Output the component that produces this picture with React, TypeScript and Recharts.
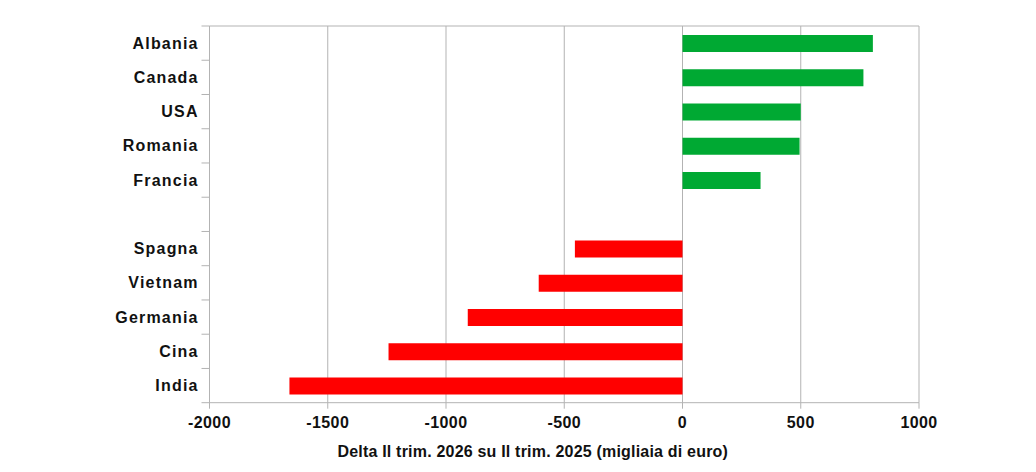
import { BarChart, Bar, XAxis, YAxis, CartesianGrid, Cell, Label } from "recharts";

const countries = [
  "Albania",
  "Canada",
  "USA",
  "Romania",
  "Francia",
  "",
  "Spagna",
  "Vietnam",
  "Germania",
  "Cina",
  "India",
];
const deltas = [805, 765, 500, 495, 330, null, -455, -608, -908, -1243, -1662];
const xTicks = [-2000, -1500, -1000, -500, 0, 500, 1000];

const data = countries.map((name, i) => ({ name, delta: deltas[i] }));

const GRID = "#b3b3b3";
const TEXT = "#111";
const FONT = "'Liberation Sans', Arial, sans-serif";

function CountryTick(props: any) {
  const { x, y, payload, index } = props;
  const half = payload?.offset ?? 17;
  // tick marks sit between categories, not at their centres
  return (
    <g>
      <line x1={x + 4} x2={x + 12} y1={y - half} y2={y - half} stroke={GRID} />
      {index === countries.length - 1 && (
        <line x1={x + 4} x2={x + 12} y1={y + half} y2={y + half} stroke={GRID} />
      )}
      {payload.value && (
        <text
          x={x + 1.2}
          y={y}
          dy="0.35em"
          textAnchor="end"
          fill={TEXT}
          fontSize={16}
          fontWeight="bold"
          fontFamily={FONT}
          letterSpacing={1.2}
        >
          {payload.value}
        </text>
      )}
    </g>
  );
}

export default function App() {
  return (
    <div style={{ position: "absolute", left: 0, top: 0, background: "#fff" }}>
      <BarChart
        width={1036}
        height={472}
        data={data}
        layout="vertical"
        barSize={17}
        margin={{ top: 26, right: 117, left: 9.5, bottom: 0 }}
      >
        {/* only the top frame line runs horizontally */}
        <CartesianGrid
          stroke={GRID}
          horizontalCoordinatesGenerator={({ offset }: any) => [offset.top]}
        />
        <XAxis
          type="number"
          domain={[-2000, 1000]}
          ticks={xTicks}
          height={69.3}
          axisLine={{ stroke: GRID }}
          tickLine={{ stroke: GRID }}
          tickSize={6}
          tickMargin={8}
          tick={{
            fill: TEXT,
            fontSize: 16,
            fontWeight: "bold",
            fontFamily: FONT,
            letterSpacing: 0.4,
          }}
        >
          <Label
            value="Delta Il trim. 2026 su Il trim. 2025 (migliaia di euro)"
            position="insideBottom"
            offset={15}
            dx={-31.5}
            fill={TEXT}
            fontSize={16}
            fontWeight="bold"
            fontFamily={FONT}
            letterSpacing={0.2}
          />
        </XAxis>
        <YAxis
          type="category"
          dataKey="name"
          width={200}
          interval={0}
          tickSize={8}
          tickMargin={4}
          tickLine={false}
          axisLine={{ stroke: GRID }}
          tick={<CountryTick />}
        />
        <Bar dataKey="delta" isAnimationActive={false}>
          {data.map((d, i) => (
            <Cell key={i} fill={(d.delta ?? 0) >= 0 ? "#00a933" : "#ff0000"} />
          ))}
        </Bar>
      </BarChart>
    </div>
  );
}
